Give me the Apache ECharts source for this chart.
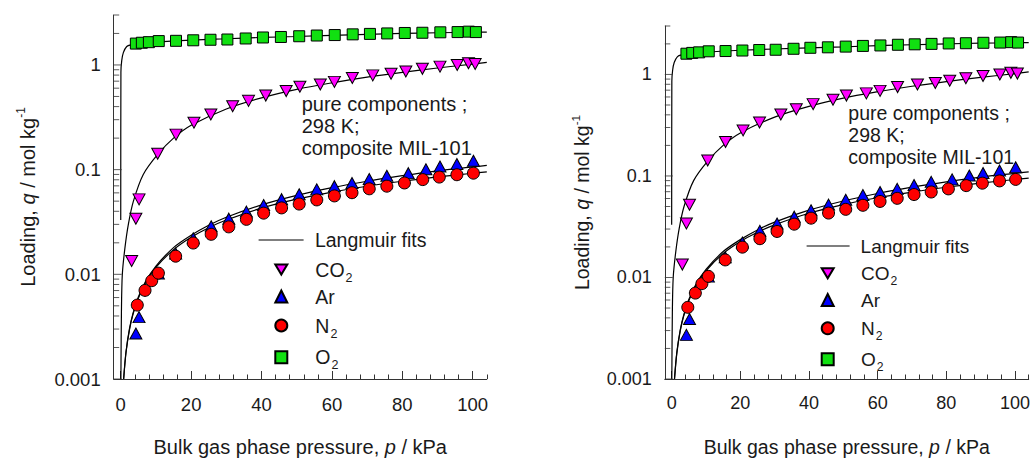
<!DOCTYPE html>
<html>
<head>
<meta charset="utf-8">
<title>Pure component isotherms, composite MIL-101, 298 K</title>
<script src="https://cdn.jsdelivr.net/npm/echarts@6/dist/echarts.min.js"></script>
<style>
  html, body { margin: 0; padding: 0; background: #fff; }
  #chart { width: 1035px; height: 462px; }
</style>
</head>
<body>
<div id="chart"></div>
<script>
// ---- measured loadings (kPa, mol/kg) ----
const co2P = [3.1, 4.3, 5.2, 10.5, 15.7, 20.8, 25.6, 31.8, 36.3, 41.2, 47.0, 50.9, 56.7, 60.7, 65.8, 71.6, 76.8, 81.0, 85.7, 90.7, 95.6, 98.8, 100.7];
const co2Q = [0.0134, 0.034, 0.052, 0.142, 0.216, 0.281, 0.336, 0.403, 0.454, 0.510, 0.563, 0.619, 0.651, 0.689, 0.751, 0.795, 0.824, 0.866, 0.918, 0.964, 1.00, 1.037, 1.02];

const arP = [4.3, 5.2, 10.7, 15.6, 20.6, 25.7, 30.7, 35.7, 40.6, 45.7, 50.7, 55.7, 60.7, 65.7, 70.6, 75.6, 81.7, 86.7, 90.7, 95.5, 100.2];
const arQ = [0.00272, 0.0039, 0.0102, 0.0158, 0.0221, 0.0288, 0.034, 0.0397, 0.0459, 0.0522, 0.0582, 0.0648, 0.0695, 0.0746, 0.0813, 0.0875, 0.0925, 0.1009, 0.107, 0.1133, 0.1216];

const n2P = [4.7, 6.9, 8.8, 10.7, 15.6, 20.6, 25.7, 30.7, 35.7, 40.6, 45.7, 50.7, 55.7, 60.7, 65.7, 70.6, 75.6, 80.6, 85.8, 90.5, 95.5, 100.2];
const n2Q = [0.00508, 0.00702, 0.00869, 0.01026, 0.0149, 0.0199, 0.0241, 0.0284, 0.0335, 0.0384, 0.0431, 0.0469, 0.0514, 0.0561, 0.0602, 0.0656, 0.0695, 0.0746, 0.0803, 0.0849, 0.0894, 0.0925];

const o2P = [4.3, 6.0, 8.0, 10.8, 15.7, 20.6, 25.5, 30.3, 35.5, 40.4, 45.5, 50.7, 55.7, 60.8, 65.9, 70.8, 75.7, 80.7, 85.7, 90.8, 95.7, 98.9, 100.9];
const o2Q = [1.60, 1.63, 1.65, 1.69, 1.70, 1.72, 1.74, 1.75, 1.79, 1.83, 1.85, 1.88, 1.91, 1.93, 1.96, 1.98, 2.00, 2.02, 2.03, 2.05, 2.06, 2.08, 2.06];

// ---- Langmuir fit curves ----
const co2FitP = [0.045, 0.2, 0.45, 1.2, 2.2, 3.6, 6.4, 10.5, 15, 20, 30, 40, 50, 60, 70, 80, 90, 100, 104];
const co2FitQ = [0.001, 0.0045, 0.01, 0.018, 0.0305, 0.05, 0.09, 0.14, 0.2, 0.265, 0.38, 0.485, 0.585, 0.675, 0.765, 0.85, 0.935, 1.02, 1.06];

const arFitP = [0.82, 1.5, 2.5, 3.5, 5, 7, 10, 15, 20, 25, 30, 40, 50, 60, 70, 80, 90, 100, 104];
const arFitQ = [0.001, 0.00183, 0.00304, 0.00426, 0.00607, 0.00849, 0.0120, 0.0180, 0.0236, 0.0294, 0.0351, 0.0460, 0.0567, 0.0672, 0.0775, 0.0876, 0.0975, 0.1061, 0.1097];

const n2FitP = [0.83, 1.5, 2.5, 3.5, 5, 7, 10, 15, 20, 25, 30, 40, 50, 60, 70, 80, 90, 100, 104];
const n2FitQ = [0.001, 0.00179, 0.00298, 0.00417, 0.00591, 0.00824, 0.01165, 0.0172, 0.0226, 0.0279, 0.0330, 0.0429, 0.0522, 0.0610, 0.0694, 0.0774, 0.0851, 0.0923, 0.0951];

const o2FitP = [0, 0.05, 0.28, 0.74, 1.7, 3, 5, 10, 20, 30, 40, 50, 60, 70, 80, 90, 100, 104];
const o2FitQ = [0.033, 0.85, 1.1, 1.31, 1.5, 1.56, 1.6, 1.66, 1.73, 1.78, 1.83, 1.87, 1.92, 1.96, 2.0, 2.03, 2.05, 2.06];

// ---- axes ----
const xMin = -2, xMax = 104;
const yMin = 0.001, yMax = 3;
const xMajorTicks = [0, 20, 40, 60, 80, 100];
const xMinorTicks = [4, 8, 12, 16, 24, 28, 32, 36, 44, 48, 52, 56, 64, 68, 72, 76, 84, 88, 92, 96, 104];
const yMajorTicks = [0.001, 0.01, 0.1, 1];
const yMinorTicks = [0.002, 0.003, 0.004, 0.005, 0.006, 0.007, 0.008, 0.009,
                     0.02, 0.03, 0.04, 0.05, 0.06, 0.07, 0.08, 0.09,
                     0.2, 0.3, 0.4, 0.5, 0.6, 0.7, 0.8, 0.9, 2, 3];
const yTickLabels = ['0.001', '0.01', '0.1', '1'];

const gasNames = ['CO2', 'Ar', 'N2', 'O2'];
const gasLabels = ['CO{sub|2}', 'Ar{sub| }', 'N{sub|2}', 'O{sub|2}'];
const noteText = 'pure components ;\n298 K;\ncomposite MIL-101';

const FONT = '"Liberation Sans", Arial, Helvetica, sans-serif';
const INK = '#1a1a1a';
const AXIS = '#333';

function pairs(xs, ys) { return xs.map((x, i) => [x, ys[i]]); }

// panel geometry (two copies of the same plot)
const panels = [
  { grid: { left: 113.7, top: 15, width: 373.1, height: 372.3 }, fs: 1,
    yNameGap: 73, xNameGap: 58, xLabelMargin: 16,
    lineLeft: 258, lineW: 45, lineY: 240,
    symX: 280.3, textX: 314.3, rows: [269, 296, 325, 356.7],
    noteX: 301.7, noteY: 104 },
  { grid: { left: 664.8, top: 26, width: 363.9, height: 362.3 }, fs: 0.975,
    yNameGap: 70, xNameGap: 58, xLabelMargin: 15,
    lineLeft: 806, lineW: 43, lineY: 246,
    symX: 826.7, textX: 860, rows: [273.3, 300, 328.3, 359.3],
    noteX: 848.3, noteY: 113 }
];

const markerStyle = {
  CO2: { symbol: 'triangle', size: [12, 11], rotate: 180, color: '#ff00ff', icon: 'path://M0,0L12,0L6,10Z' },
  Ar:  { symbol: 'triangle', size: [12, 11], rotate: 0, color: '#0000ff', icon: 'triangle' },
  N2:  { symbol: 'circle', size: 12, rotate: 0, color: '#ff0000', icon: 'circle' },
  O2:  { symbol: 'rect', size: 11, rotate: 0, color: '#11e011', icon: 'rect' }
};
const gasData = {
  CO2: pairs(co2P, co2Q), Ar: pairs(arP, arQ), N2: pairs(n2P, n2Q), O2: pairs(o2P, o2Q)
};
const fitData = [pairs(co2FitP, co2FitQ), pairs(arFitP, arFitQ), pairs(n2FitP, n2FitQ), pairs(o2FitP, o2FitQ)];

const option = {
  animation: false,
  backgroundColor: '#fff',
  textStyle: { fontFamily: FONT, color: INK },
  grid: [], xAxis: [], yAxis: [], series: [], legend: [], graphic: []
};

panels.forEach((pn, i) => {
  const f = pn.fs;
  option.grid.push(Object.assign({ containLabel: false }, pn.grid));

  // main x axis: line, major ticks and labels
  option.xAxis.push({
    type: 'value', gridIndex: i, position: 'bottom', min: xMin, max: xMax,
    axisLine: { show: true, onZero: false, lineStyle: { color: AXIS, width: 1 } },
    axisTick: { show: true, inside: true, length: 8, customValues: xMajorTicks, lineStyle: { color: AXIS } },
    axisLabel: { show: true, customValues: xMajorTicks, margin: pn.xLabelMargin, fontSize: 18.5 * f, color: INK, fontFamily: FONT },
    splitLine: { show: false },
    name: 'Bulk gas phase pressure, {i|p} / kPa',
    nameLocation: 'middle', nameGap: pn.xNameGap,
    nameTextStyle: {
      fontSize: 20 * f, color: INK, fontFamily: FONT,
      rich: { i: { fontSize: 20 * f, fontStyle: 'italic', color: INK, fontFamily: FONT } }
    }
  });
  // minor x ticks
  option.xAxis.push({
    type: 'value', gridIndex: i, position: 'bottom', min: xMin, max: xMax,
    axisLine: { show: false, onZero: false },
    axisTick: { show: true, inside: true, length: 4.5, customValues: xMinorTicks, lineStyle: { color: AXIS } },
    axisLabel: { show: false },
    splitLine: { show: false }
  });

  option.yAxis.push({
    type: 'log', logBase: 10, gridIndex: i, position: 'left', min: yMin, max: yMax,
    axisLine: { show: true, onZero: false, lineStyle: { color: AXIS, width: 1 } },
    axisTick: { show: false },
    axisLabel: {
      show: true, margin: 13, fontSize: 18.5 * f, color: INK, fontFamily: FONT, showMaxLabel: false,
      formatter: (v) => {
        const k = Math.log10(v);
        if (Math.abs(k - Math.round(k)) > 1e-6) return '';
        const idx = Math.round(k) + 3;
        return yTickLabels[idx] || '';
      }
    },
    splitLine: { show: false },
    minorTick: { show: false },
    name: 'Loading, {i|q} / mol kg{sup|-1}',
    nameLocation: 'middle', nameGap: pn.yNameGap, nameRotate: 90,
    nameTextStyle: {
      fontSize: 20 * f, color: INK, fontFamily: FONT,
      rich: {
        i: { fontSize: 20 * f, fontStyle: 'italic', color: INK, fontFamily: FONT },
        sup: { fontSize: 12 * f, color: INK, fontFamily: FONT, padding: [0, 0, 14 * f, 0] }
      }
    }
  });

  const xi = 2 * i, yi = i;

  // fit curves
  fitData.forEach((d) => {
    option.series.push({
      name: 'Langmuir fits', type: 'line', xAxisIndex: xi, yAxisIndex: yi,
      data: d, showSymbol: false, symbol: 'none', smooth: 0.3, clip: true,
      lineStyle: { color: '#000', width: 1.2 }, itemStyle: { color: '#000' },
      silent: true, z: 2
    });
  });

  // measured points
  gasNames.forEach((g) => {
    const m = markerStyle[g];
    option.series.push({
      name: g, type: 'scatter', xAxisIndex: xi, yAxisIndex: yi,
      data: gasData[g], symbol: m.symbol, symbolSize: m.size, symbolRotate: m.rotate,
      itemStyle: { color: m.color, borderColor: '#000', borderWidth: 1, opacity: 1 },
      silent: true, z: 3
    });
  });

  // log-axis ticks (inside)
  option.series.push({
    type: 'scatter', xAxisIndex: xi, yAxisIndex: yi, silent: true, z: 4,
    data: yMajorTicks.map((v) => [xMin, v]),
    symbol: 'rect', symbolSize: [8, 1], symbolOffset: [4, 0],
    itemStyle: { color: AXIS }
  });
  option.series.push({
    type: 'scatter', xAxisIndex: xi, yAxisIndex: yi, silent: true, z: 4,
    data: yMinorTicks.map((v) => [xMin, v]),
    symbol: 'rect', symbolSize: [5.5, 1], symbolOffset: [2.75, 0],
    itemStyle: { color: AXIS }
  });

  // legend: fit line (plain line, no marker)
  const legendText = {
    fontSize: 19.5 * f, color: INK, fontFamily: FONT, lineHeight: 22,
    rich: {
      sub: { fontSize: 12.5 * f, lineHeight: 12, color: INK, fontFamily: FONT, padding: [16, 0, 0, 1] }
    }
  };
  option.legend.push({
    data: ['Langmuir fits'], orient: 'vertical', selectedMode: false,
    left: pn.lineLeft, top: pn.lineY - 11, padding: 0,
    itemWidth: pn.lineW, itemHeight: 14,
    itemStyle: { opacity: 0 },
    lineStyle: { color: '#000', width: 1.2 },
    textStyle: Object.assign({}, legendText, { padding: [0, 0, 0, pn.textX - pn.lineLeft - pn.lineW - 5] })
  });
  // legend: one entry per gas
  gasNames.forEach((g, k) => {
    const w = 12;
    option.legend.push({
      data: [{ name: g, icon: markerStyle[g].icon }], orient: 'vertical', selectedMode: false,
      left: pn.symX - w / 2, top: pn.rows[k] - 14, padding: 0,
      itemWidth: w, itemHeight: 12,
      formatter: () => gasLabels[k],
      textStyle: Object.assign({}, legendText, { padding: [0, 0, 0, pn.textX - (pn.symX + w / 2) - 5] })
    });
  });

  option.graphic.push({
    type: 'text', left: pn.noteX, top: pn.noteY - 11, silent: true,
    style: { text: noteText, font: (20 * f) + 'px ' + FONT, fill: INK, lineHeight: 21.8 }
  });
});

const chart = echarts.init(document.getElementById('chart'), null, { renderer: 'svg' });
chart.setOption(option);
</script>
</body>
</html>
